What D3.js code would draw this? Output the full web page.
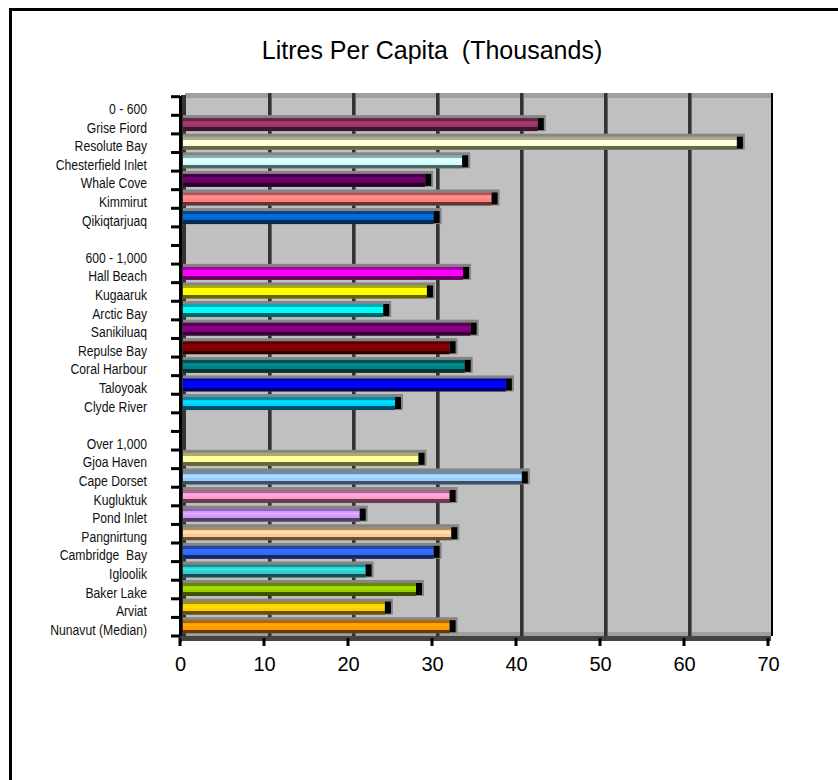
<!DOCTYPE html>
<html>
<head>
<meta charset="utf-8">
<script src="https://cdn.jsdelivr.net/npm/d3@7"></script>
<style>
  html, body { margin: 0; padding: 0; background: #fff; }
  svg { display: block; }
  text { font-family: "Liberation Sans", Arial, sans-serif; }
</style>
</head>
<body>
<svg id="chart" width="838" height="780"></svg>
<script>
// ---------- data ----------
const titleText = "Litres Per Capita  (Thousands)";
const categories = [
  "0 - 600", "Grise Fiord", "Resolute Bay", "Chesterfield Inlet", "Whale Cove",
  "Kimmirut", "Qikiqtarjuaq", "", "600 - 1,000", "Hall Beach", "Kugaaruk",
  "Arctic Bay", "Sanikiluaq", "Repulse Bay", "Coral Harbour", "Taloyoak",
  "Clyde River", "", "Over 1,000", "Gjoa Haven", "Cape Dorset", "Kugluktuk",
  "Pond Inlet", "Pangnirtung", "Cambridge  Bay", "Igloolik", "Baker Lake",
  "Arviat", "Nunavut (Median)"
];
const values = [
  null, 42.0, 65.7, 33.0, 28.6, 36.5, 29.6, null, null, 33.1, 28.8,
  23.6, 34.0, 31.5, 33.3, 38.2, 25.0, null, null, 27.8, 40.1, 31.5,
  20.8, 31.7, 29.6, 21.5, 27.5, 23.8, 31.5
];
const barColors = [
  null, "#993366", "#FFFFCC", "#CCFFFF", "#660066", "#FF8080", "#0066CC", null, null,
  "#FF00FF", "#FFFF00", "#00FFFF", "#800080", "#800000", "#008080", "#0000FF", "#00CCFF",
  null, null, "#FFFF99", "#99CCFF", "#FF99CC", "#CC99FF", "#FFCC99", "#3366FF",
  "#33CCCC", "#99CC00", "#FFCC00", "#FF9900"
];
const xTicks = [0, 10, 20, 30, 40, 50, 60, 70];

// ---------- layout ----------
const svg = d3.select("#chart");
const depthX = 5;                          // pseudo-3D offset between back wall and front plane
const x = d3.scaleLinear().domain([0, 70]).range([185, 773]);       // back wall
const xFront = d3.scaleLinear().domain([0, 70]).range([185 - depthX, 773 - depthX]);
const idx = d3.range(categories.length);
const y = d3.scaleBand().domain(idx).range([96.7, 636]).padding(0);
const barH = 13;

// outer frame
svg.append("rect").attr("x", 10.5).attr("y", 9.5).attr("width", 900).attr("height", 900)
  .attr("fill", "none").attr("stroke", "#000").attr("stroke-width", 3);

// title
svg.append("text").attr("x", 432).attr("y", 59).attr("text-anchor", "middle")
  .style("white-space", "pre")
  .attr("font-size", 25).attr("fill", "#000").text(titleText);

// back wall
const wallTop = 93, wallBottom = 636;
svg.append("rect").attr("x", x(0)).attr("y", wallTop).attr("width", x(70) - x(0))
  .attr("height", wallBottom - wallTop).attr("fill", "#c0c0c0");
svg.append("rect").attr("x", x(0)).attr("y", wallTop).attr("width", x(70) - x(0))
  .attr("height", 5).attr("fill", "#a0a0a0");
svg.append("rect").attr("x", x(0)).attr("y", wallBottom - 4).attr("width", x(70) - x(0))
  .attr("height", 4).attr("fill", "#a0a0a0");

// gridlines on the back wall
const gridVals = xTicks.slice(1, -1);
svg.append("g").selectAll("g").data(gridVals).join("g").each(function(d) {
  const g = d3.select(this);
  g.append("rect").attr("x", x(d) - 1).attr("y", wallTop).attr("width", 3)
    .attr("height", wallBottom - wallTop).attr("fill", "#333");
  g.append("rect").attr("x", x(d) + 2).attr("y", wallTop).attr("width", 1)
    .attr("height", wallBottom - wallTop).attr("fill", "#666");
});
svg.append("rect").attr("x", x(70) - 2).attr("y", wallTop).attr("width", 2)
  .attr("height", wallBottom - wallTop).attr("fill", "#000");

// left side wall strip
svg.append("rect").attr("x", xFront(0) + 1).attr("y", wallTop + 2).attr("width", 5)
  .attr("height", wallBottom - wallTop).attr("fill", "#333");

// gradients for bars
const defs = svg.append("defs");
idx.forEach(i => {
  const c = barColors[i];
  if (!c) return;
  const base = d3.color(c);
  const g = defs.append("linearGradient").attr("id", "grad" + i)
    .attr("x1", 0).attr("y1", 0).attr("x2", 0).attr("y2", 1);
  const stops = [
    [0, base.darker(1.1)], [0.22, base.darker(1.1)],
    [0.22, base], [0.4, base.brighter(0.35)], [0.55, base], [0.72, base],
    [0.72, base.darker(2.6)], [1, base.darker(2.6)]
  ];
  stops.forEach(([o, col]) => g.append("stop").attr("offset", o).attr("stop-color", col.formatHex()));
});

// bars
const barData = idx.filter(i => values[i] != null);
const bars = svg.append("g").selectAll("g").data(barData).join("g");
bars.each(function(i) {
  const g = d3.select(this);
  const cy = y(i) + y.bandwidth() / 2;
  const top = cy - barH / 2;
  const x0 = x(0) - 2, x1 = x(values[i]);
  // shadow behind the bar
  g.append("rect").attr("x", x0).attr("y", top - 3).attr("width", x1 - x0 + 8)
    .attr("height", barH + 3).attr("fill", "#858585");
  // face
  g.append("rect").attr("x", x0).attr("y", top).attr("width", x1 - x0)
    .attr("height", barH).attr("fill", `url(#grad${i})`);
  // end cap
  g.append("rect").attr("x", x1).attr("y", top).attr("width", 6)
    .attr("height", barH - 1).attr("fill", "#000");
});

// left axis
svg.append("rect").attr("x", xFront(0) - 1).attr("y", 96).attr("width", 3)
  .attr("height", 546).attr("fill", "#000");
svg.append("g").selectAll("rect").data(d3.range(categories.length + 1)).join("rect")
  .attr("x", xFront(0) - 9).attr("y", d => 96.7 + d * y.step() - 1.5)
  .attr("width", 9).attr("height", 3).attr("fill", "#000");

// category labels (narrow type)
svg.append("g").selectAll("text").data(idx).join("text")
  .attr("transform", i => `translate(147,${y(i) + y.bandwidth() / 2 + 8}) scale(0.87,1)`)
  .style("white-space", "pre")
  .attr("text-anchor", "end").attr("font-size", 14).attr("fill", "#111")
  .text(i => categories[i]);

// bottom floor edge + value axis
svg.append("rect").attr("x", xFront(0)).attr("y", 636).attr("width", xFront(70) - xFront(0) + 3)
  .attr("height", 5).attr("fill", "#444");
const axis = d3.axisBottom(xFront).tickValues(xTicks).tickSize(0).tickPadding(16)
  .tickFormat(d3.format("d"));
const ax = svg.append("g").attr("transform", "translate(0,641)").call(axis);
ax.select(".domain").remove();
ax.selectAll("text").attr("font-size", 20).attr("fill", "#000")
  .attr("font-family", "Liberation Sans, Arial, sans-serif");
svg.append("g").selectAll("rect").data(xTicks).join("rect")
  .attr("x", d => xFront(d) - 1.5).attr("y", 638).attr("width", 3).attr("height", 8).attr("fill", "#000");
</script>
</body>
</html>
